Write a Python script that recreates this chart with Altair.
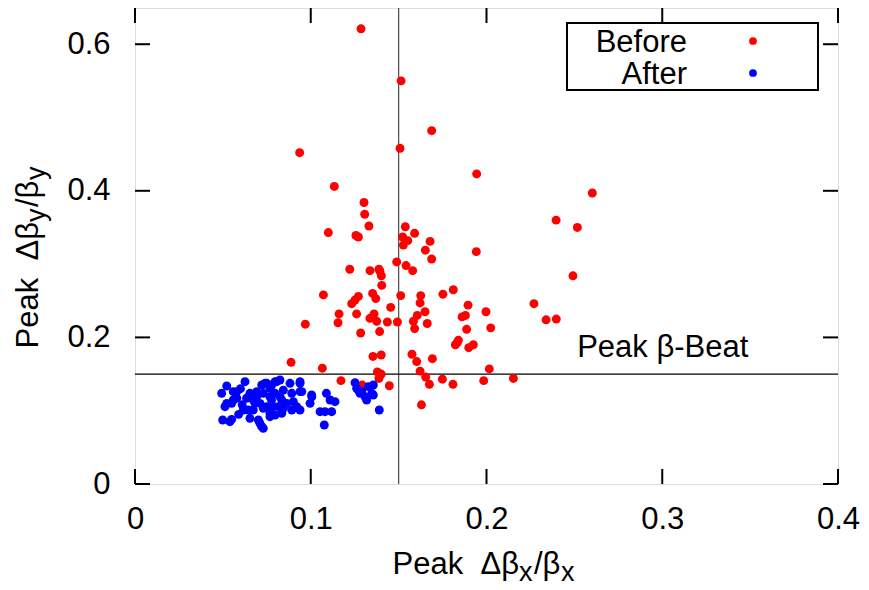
import altair as alt
import pandas as pd

# ---- data ----
before_x = [0.1286, 0.1514, 0.1688, 0.1508, 0.0937, 0.1134, 0.1944, 0.2602, 0.1303, 0.1307,
            0.2396, 0.1331, 0.1538, 0.2517, 0.1100, 0.1591, 0.1257, 0.1271, 0.1523, 0.1552,
            0.1679, 0.1527, 0.1652, 0.1942, 0.1688, 0.1489, 0.1542, 0.1222, 0.1388, 0.1580,
            0.1337, 0.1394, 0.2492, 0.1402, 0.1404, 0.1811, 0.1352, 0.1752, 0.1072, 0.1512,
            0.1626, 0.1271, 0.1370, 0.1252, 0.1622, 0.2270, 0.1233, 0.1895, 0.1455, 0.1650,
            0.1997, 0.1161, 0.1261, 0.1360, 0.1606, 0.1880, 0.1861, 0.1337, 0.2397, 0.2339,
            0.1375, 0.1584, 0.1436, 0.1493, 0.1155, 0.1663, 0.0969, 0.2024, 0.1591, 0.1887,
            0.1392, 0.1284, 0.1840, 0.1834, 0.1823, 0.1925, 0.1899, 0.1401, 0.1354, 0.1576,
            0.1692, 0.1603, 0.0888, 0.1066, 0.2016, 0.1622, 0.1379, 0.1401, 0.1388, 0.1654,
            0.1749, 0.2153, 0.1984, 0.1172, 0.1675, 0.1809, 0.1447, 0.1293, 0.1630]
before_y = [0.621, 0.550, 0.482, 0.458, 0.452, 0.406, 0.423, 0.397, 0.384, 0.368,
            0.360, 0.352, 0.351, 0.350, 0.343, 0.342, 0.339, 0.337, 0.337, 0.332,
            0.331, 0.326, 0.319, 0.317, 0.307, 0.303, 0.298, 0.293, 0.293, 0.291,
            0.291, 0.290, 0.284, 0.284, 0.271, 0.265, 0.260, 0.259, 0.258, 0.257,
            0.257, 0.256, 0.253, 0.251, 0.247, 0.246, 0.246, 0.244, 0.241, 0.235,
            0.235, 0.232, 0.232, 0.232, 0.230, 0.230, 0.228, 0.226, 0.225, 0.224,
            0.222, 0.222, 0.221, 0.221, 0.220, 0.219, 0.218, 0.213, 0.212, 0.211,
            0.208, 0.206, 0.196, 0.193, 0.190, 0.190, 0.186, 0.176, 0.174, 0.177,
            0.171, 0.167, 0.166, 0.158, 0.157, 0.154, 0.153, 0.150, 0.144, 0.146,
            0.143, 0.144, 0.141, 0.141, 0.136, 0.136, 0.134, 0.135, 0.108]

after_x = [0.0522, 0.0493, 0.0559, 0.0579, 0.0512, 0.0550, 0.0499, 0.0550, 0.0540, 0.0522,
           0.0559, 0.0579, 0.0626, 0.0654, 0.0645, 0.0683, 0.0692, 0.0673, 0.0721, 0.0749,
           0.0768, 0.0797, 0.0825, 0.0721, 0.0702, 0.0654, 0.0749, 0.0768, 0.0777, 0.0797,
           0.0825, 0.0816, 0.0844, 0.0863, 0.0835, 0.0797, 0.0882, 0.0892, 0.0939, 0.0949,
           0.0901, 0.0920, 0.0939, 0.1006, 0.0996, 0.1053, 0.1081, 0.1119, 0.1089, 0.1138,
           0.1110, 0.1077, 0.1252, 0.1261, 0.1290, 0.1328, 0.1356, 0.1347, 0.1309, 0.1318,
           0.1390, 0.1280, 0.0740, 0.0778, 0.0806, 0.0939, 0.0692, 0.0730, 0.0635, 0.0711,
           0.0768, 0.0835, 0.0939, 0.0616, 0.0673, 0.0730, 0.0787, 0.0844, 0.0711, 0.0768,
           0.0730, 0.0892, 0.1005, 0.1271, 0.1356, 0.0600, 0.0610, 0.0590]
after_y = [0.1337, 0.1237, 0.1260, 0.1170, 0.1055, 0.1100, 0.0873, 0.0882, 0.0850, 0.1100,
           0.1146, 0.1260, 0.1396, 0.1237, 0.1010, 0.1100, 0.1190, 0.1146, 0.1351, 0.1374,
           0.1305, 0.1396, 0.1419, 0.0782, 0.0873, 0.0896, 0.1055, 0.0964, 0.1146, 0.1237,
           0.1190, 0.1055, 0.1280, 0.1100, 0.0964, 0.0941, 0.1374, 0.1237, 0.1396, 0.1260,
           0.1123, 0.1055, 0.1010, 0.1190, 0.1100, 0.0987, 0.0987, 0.0987, 0.1237, 0.1123,
           0.1146, 0.0805, 0.1382, 0.1305, 0.1260, 0.1328, 0.1351, 0.1237, 0.1190, 0.1146,
           0.1010, 0.1237, 0.1374, 0.1351, 0.1396, 0.1374, 0.1260, 0.1237, 0.1170, 0.1100,
           0.1190, 0.1146, 0.1260, 0.1010, 0.1010, 0.1033, 0.1055, 0.1033, 0.0828, 0.0918,
           0.0760, 0.1010, 0.1214, 0.1280, 0.1214, 0.1300, 0.1080, 0.0950]

x_ticks = [0.0, 0.1, 0.2, 0.3, 0.4]
y_ticks = [0.0, 0.2, 0.4, 0.6]
threshold = 0.15

FONT = "Liberation Sans"
W, H = 703, 476
FS = 31
DOT = 80

points = pd.concat([
    pd.DataFrame({"x": before_x, "y": before_y, "series": "Before"}),
    pd.DataFrame({"x": after_x, "y": after_y, "series": "After"}),
], ignore_index=True)
points["order"] = (points["series"] == "After").astype(int)

xs = alt.Scale(domain=[0, 0.4], nice=False, zero=False)
ys = alt.Scale(domain=[0, 0.6494], nice=False, zero=False)
cs = alt.Scale(domain=["Before", "After"], range=["#ff0000", "#0000ff"])

lab = "datum.value == 0 ? '0' : format(datum.value, '.1f')"
xa = alt.Axis(values=x_ticks, labelExpr=lab, ticks=False, tickSize=0,
              domain=False, grid=False, labelPadding=20, title=None, labelFlush=False,
              labelFont=FONT, labelFontSize=FS, labelColor="black")
ya = alt.Axis(values=y_ticks, labelExpr=lab, ticks=False, tickSize=0,
              domain=False, grid=False, labelPadding=25, title=None, labelFlush=False,
              labelFont=FONT, labelFontSize=FS, labelColor="black")

vline = alt.Chart(pd.DataFrame({"v": [threshold]})).mark_rule(
    color="#555555", strokeWidth=1.3).encode(
    x=alt.X("v:Q", scale=xs, axis=xa), y=alt.value(0), y2=alt.value(H))
hline = alt.Chart(pd.DataFrame({"v": [threshold]})).mark_rule(
    color="black", strokeWidth=1.3).encode(
    y=alt.Y("v:Q", scale=ys, axis=ya), x=alt.value(0), x2=alt.value(W))

pts = alt.Chart(points).mark_circle(size=DOT, opacity=1).encode(
    x=alt.X("x:Q", scale=xs, axis=xa),
    y=alt.Y("y:Q", scale=ys, axis=ya),
    color=alt.Color("series:N", scale=cs, legend=None),
    order=alt.Order("order:Q"),
)

tdf_x = pd.DataFrame({"v": x_ticks})
tdf_y = pd.DataFrame({"v": y_ticks})
TL = 15
xt_bot = alt.Chart(tdf_x).mark_rule(color="black", strokeWidth=2).encode(
    x=alt.X("v:Q", scale=xs, axis=xa), y=alt.value(H), y2=alt.value(H - TL))
xt_top = alt.Chart(tdf_x).mark_rule(color="black", strokeWidth=2).encode(
    x=alt.X("v:Q", scale=xs, axis=xa), y=alt.value(0), y2=alt.value(TL))
yt_left = alt.Chart(tdf_y).mark_rule(color="black", strokeWidth=2).encode(
    y=alt.Y("v:Q", scale=ys, axis=ya), x=alt.value(0), x2=alt.value(TL))
yt_right = alt.Chart(tdf_y).mark_rule(color="black", strokeWidth=2).encode(
    y=alt.Y("v:Q", scale=ys, axis=ya), x=alt.value(W), x2=alt.value(W - TL))

one = pd.DataFrame({"a": [0]})


def txt(s, x, y, size=FS, align="left", angle=0):
    return alt.Chart(one).mark_text(
        font=FONT, fontSize=size, align=align, baseline="alphabetic",
        angle=angle, color="black").encode(
        x=alt.value(x), y=alt.value(y), text=alt.value(s))


annot = alt.Chart(pd.DataFrame({"x": [0.2516], "y": [0.1733], "t": ["Peak β-Beat"]})).mark_text(
    font=FONT, fontSize=FS, align="left", baseline="alphabetic", color="black").encode(
    x=alt.X("x:Q", scale=xs, axis=xa), y=alt.Y("y:Q", scale=ys, axis=ya), text="t:N")

# x title: Peak  Δβx/βx
SUB = 27
xt_main = txt("Peak\u00a0 Δβ", 384, 566, align="right")
xt_s1 = txt("x", 384, 573, size=SUB)
xt_mid = txt("/β", 399, 566)
xt_s2 = txt("x", 426, 573, size=SUB)

# y title: Peak  Δβy/βy (rotated)
yt_main = txt("Peak\u00a0 Δβ", -97, 214, align="right", angle=270)
yt_s1 = txt("y", -90, 214, size=SUB, align="left", angle=270)
yt_mid = txt("/β", -97, 199, align="left", angle=270)
yt_s2 = txt("y", -90, 172, size=SUB, align="left", angle=270)

# legend
leg_box = alt.Chart(one).mark_rect(fill="white", stroke="black", strokeWidth=2).encode(
    x=alt.value(432), x2=alt.value(683), y=alt.value(15), y2=alt.value(82))
leg_b = txt("Before", 552, 44, align="right")
leg_a = txt("After", 552, 76, align="right")
leg_dots = alt.Chart(pd.DataFrame({"series": ["Before", "After"], "py": [33, 65]})).mark_circle(
    size=60, opacity=1).encode(
    x=alt.value(618), y=alt.Y("py:Q", scale=None, axis=None),
    color=alt.Color("series:N", scale=cs, legend=None))

chart = alt.layer(
    vline, hline, pts, xt_bot, xt_top, yt_left, yt_right, annot,
    xt_main, xt_s1, xt_mid, xt_s2, yt_main, yt_s1, yt_mid, yt_s2,
    leg_box, leg_b, leg_a, leg_dots,
).properties(
    width=W, height=H,
    autosize=alt.AutoSizeParams(type="none"),
    padding={"left": 127, "top": 0, "right": 23, "bottom": 98},
).configure_view(stroke="black", strokeWidth=2).configure(background="white")

chart.save("out.html", embed_options={"renderer": "svg", "actions": False})
